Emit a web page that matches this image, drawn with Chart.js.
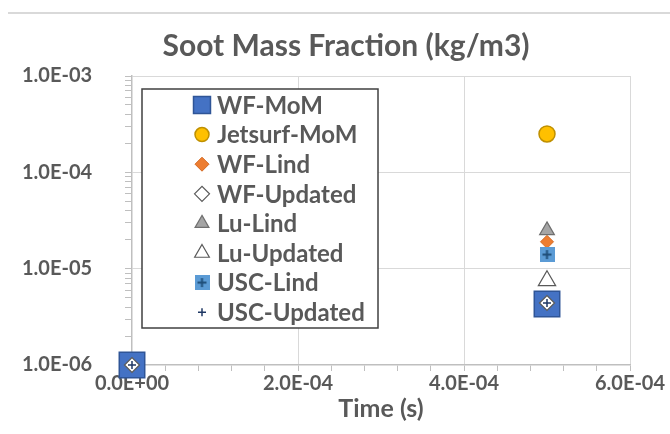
<!DOCTYPE html>
<html>
<head>
<meta charset="utf-8">
<script src="https://cdn.jsdelivr.net/npm/chart.js@4.4.0/dist/chart.umd.min.js"></script>
<style>
  html, body { margin: 0; padding: 0; background: #fff; }
</style>
</head>
<body>
<canvas id="chart" width="670" height="434"></canvas>
<script>
// time points (s)
const times = [0, 5e-4];

// soot mass fraction, one value per time point (null = no marker)
const wfMom       = [1e-6, 4.3e-6];
const jetsurfMom  = [null, 2.5e-4];
const wfLind      = [null, 1.9e-5];
const wfUpdated   = [1e-6, 4.4e-6];
const luLind      = [null, 2.5e-5];
const luUpdated   = [null, 7.5e-6];
const uscLind     = [null, 1.4e-5];
const uscUpdated  = [1e-6, 4.4e-6];

const xTicksMajor = [0, 2e-4, 4e-4, 6e-4];

const grey = '#595959';
const font = 'Lato';

function sci(v) {
  if (v === 0) return '0.0E+00';
  const e = Math.floor(Math.log10(v) + 1e-9);
  const m = v / Math.pow(10, e);
  const s = e < 0 ? '-' : '+';
  return m.toFixed(1) + 'E' + s + String(Math.abs(e)).padStart(2, '0');
}
function isDecade(v) {
  const l = Math.log10(v);
  return Math.abs(l - Math.round(l)) < 1e-6;
}
function isMajorX(v) {
  return xTicksMajor.some(t => Math.abs(t - v) < 1e-9);
}
function pts(vals) {
  const out = [];
  vals.forEach((v, i) => { if (v !== null) out.push({ x: times[i], y: v }); });
  return out;
}

// light blue square with a plus, for USC-Lind
function plusSquare(size) {
  const c = document.createElement('canvas');
  c.width = size; c.height = size;
  const g = c.getContext('2d');
  g.fillStyle = '#5B9BD5';
  g.fillRect(0, 0, size, size);
  g.strokeStyle = '#1F4E79';
  g.lineWidth = 2;
  g.beginPath();
  g.moveTo(size / 2, 3); g.lineTo(size / 2, size - 3);
  g.moveTo(3, size / 2); g.lineTo(size - 3, size / 2);
  g.stroke();
  return c;
}
const uscMarker = plusSquare(15);

const datasets = [
  { label: 'WF-MoM', data: pts(wfMom), pointStyle: 'rect', pointRadius: 18, legendRadius: 12,
    backgroundColor: '#4472C4', borderColor: '#2F5597', pointBorderWidth: 1.5 },
  { label: 'Jetsurf-MoM', data: pts(jetsurfMom), pointStyle: 'circle', pointRadius: 8, legendRadius: 7,
    backgroundColor: '#FFC000', borderColor: '#BF9000', pointBorderWidth: 1.5 },
  { label: 'WF-Lind', data: pts(wfLind), pointStyle: 'rectRot', pointRadius: 6.5, legendRadius: 7,
    backgroundColor: '#ED7D31', borderColor: '#D46A24', pointBorderWidth: 1 },
  { label: 'WF-Updated', data: pts(wfUpdated), pointStyle: 'rectRot', pointRadius: 7.5, legendRadius: 7.5,
    backgroundColor: '#FFFFFF', borderColor: '#595959', pointBorderWidth: 1.2 },
  { label: 'Lu-Lind', data: pts(luLind), pointStyle: 'triangle', pointRadius: 8.5, legendRadius: 8,
    backgroundColor: '#A5A5A5', borderColor: '#6F6F6F', pointBorderWidth: 1.2 },
  { label: 'Lu-Updated', data: pts(luUpdated), pointStyle: 'triangle', pointRadius: 10, legendRadius: 8.5,
    backgroundColor: '#FFFFFF', borderColor: '#595959', pointBorderWidth: 1.2 },
  { label: 'USC-Lind', data: pts(uscLind), pointStyle: uscMarker, pointRadius: 7, legendRadius: 7,
    backgroundColor: '#5B9BD5', borderColor: '#1F4E79', pointBorderWidth: 0 },
  { label: 'USC-Updated', data: pts(uscUpdated), pointStyle: 'cross', pointRadius: 4, legendRadius: 4,
    backgroundColor: '#1F3864', borderColor: '#1F3864', pointBorderWidth: 1.5 }
];
// first series underneath, last on top; markers may overhang the axes
datasets.forEach((d, i) => { d.order = datasets.length - i; d.showLine = false; d.clip = false; });

const frameLine = {
  id: 'frameLine',
  beforeDraw(chart) {
    const ctx = chart.ctx;
    ctx.save();
    ctx.strokeStyle = '#d9d9d9';
    ctx.lineWidth = 2;
    ctx.beginPath();
    ctx.moveTo(8, 13);
    ctx.lineTo(670, 13);
    ctx.stroke();
    ctx.restore();
  }
};

const boxLegend = {
  id: 'boxLegend',
  afterDatasetsDraw(chart) {
    const ctx = chart.ctx;
    const a = chart.chartArea;
    const x0 = a.left + 10, y0 = a.top + 13, w = 236, h = 239;
    ctx.save();
    ctx.fillStyle = '#fff';
    ctx.fillRect(x0, y0, w, h);
    ctx.strokeStyle = '#404040';
    ctx.lineWidth = 1.5;
    ctx.strokeRect(x0, y0, w, h);
    chart.data.datasets.forEach((ds, i) => {
      const cy = y0 + 16 + i * 29.6;
      ctx.fillStyle = ds.backgroundColor;
      ctx.strokeStyle = ds.borderColor;
      ctx.lineWidth = ds.pointBorderWidth;
      Chart.helpers.drawPoint(ctx, {
        pointStyle: ds.pointStyle, radius: ds.legendRadius,
        borderWidth: ds.pointBorderWidth, rotation: 0
      }, x0 + 60, cy);
      ctx.fillStyle = grey;
      ctx.font = 'bold 24px ' + font;
      ctx.textAlign = 'left';
      ctx.textBaseline = 'middle';
      ctx.fillText(ds.label, x0 + 75, cy + 1);
    });
    ctx.restore();
  }
};

new Chart(document.getElementById('chart'), {
  type: 'scatter',
  data: { datasets: datasets },
  plugins: [frameLine, boxLegend],
  options: {
    responsive: false,
    animation: false,
    events: [],
    layout: { padding: { left: 22, top: 0, right: 0, bottom: 0 } },
    plugins: {
      legend: { display: false },
      tooltip: { enabled: false },
      title: {
        display: true,
        text: 'Soot Mass Fraction (kg/m3)',
        color: grey,
        font: { family: font, size: 30, weight: 'bold', lineHeight: 1.2 },
        padding: { top: 28, bottom: 12 }
      }
    },
    scales: {
      x: {
        type: 'linear',
        min: 0,
        max: 6e-4,
        ticks: {
          stepSize: 4e-5,
          autoSkip: false,
          maxRotation: 0,
          padding: 1,
          color: grey,
          font: { family: font, size: 20, weight: 'bold' },
          callback: v => isMajorX(v) ? sci(v) : ''
        },
        grid: {
          color: c => (c.tick && isMajorX(c.tick.value) && c.tick.value > 0) ? '#d9d9d9' : 'rgba(0,0,0,0)',
          tickColor: '#bfbfbf',
          tickLength: 6
        },
        border: { color: '#bfbfbf', width: 1.5 },
        title: {
          display: true,
          text: 'Time (s)',
          color: grey,
          font: { family: font, size: 25, weight: 'bold', lineHeight: 1.2 },
          padding: { top: 0, bottom: 10 }
        },
        afterFit: s => { s.height = 69; s.paddingLeft = 0; s.paddingRight = 40; }
      },
      y: {
        type: 'logarithmic',
        min: 1e-6,
        max: 1e-3,
        afterBuildTicks: s => {
          s.ticks = s.ticks.filter(t => {
            const m = t.value / Math.pow(10, Math.floor(Math.log10(t.value) + 1e-9));
            return Math.abs(m - Math.round(m)) < 1e-6;
          });
        },
        ticks: {
          autoSkip: false,
          crossAlign: 'far',
          color: grey,
          font: { family: font, size: 20, weight: 'bold' },
          callback: v => isDecade(v) ? sci(v) : ''
        },
        grid: {
          color: c => (c.tick && isDecade(c.tick.value) && c.tick.value > 1.5e-6) ? '#d9d9d9' : 'rgba(0,0,0,0)',
          tickColor: '#bfbfbf',
          tickLength: 7
        },
        border: { color: '#bfbfbf', width: 1.5 },
        afterFit: s => { s.width = 110; }
      }
    }
  }
});
</script>
</body>
</html>
